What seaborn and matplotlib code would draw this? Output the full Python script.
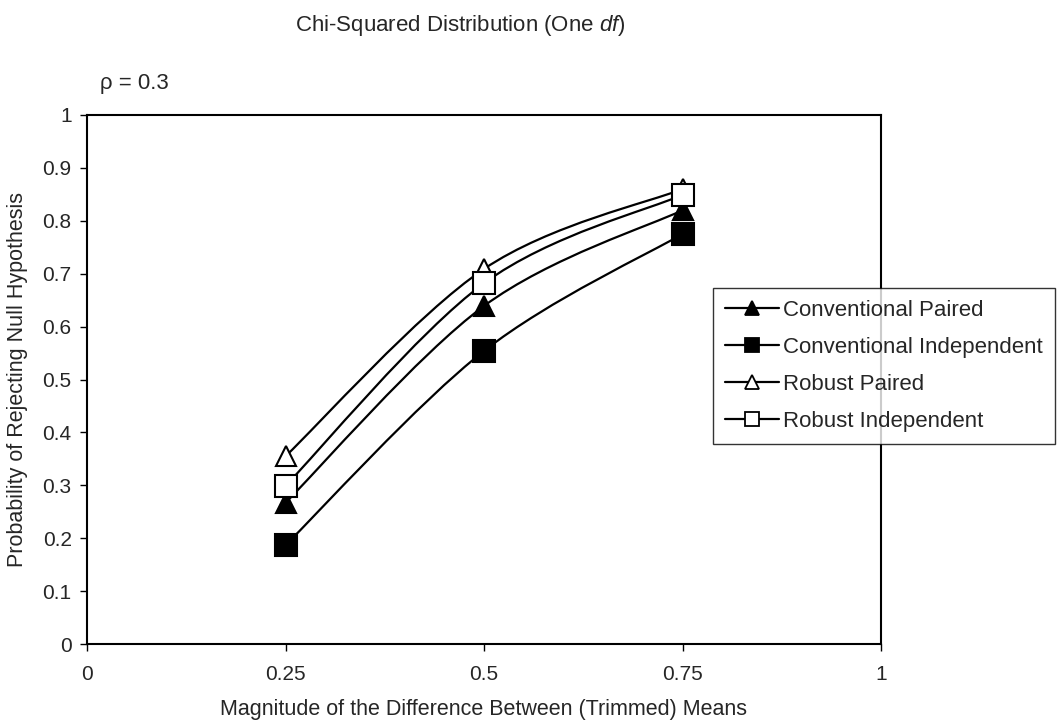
import matplotlib
matplotlib.use("Agg")
import matplotlib.pyplot as plt
from matplotlib.path import Path
from matplotlib.patches import PathPatch
from matplotlib.lines import Line2D
import numpy as np
import pandas as pd
import seaborn as sns

# ---- data ----
magnitudes = [0.25, 0.5, 0.75]
conventional_paired = [0.267, 0.639, 0.820]
conventional_independent = [0.187, 0.554, 0.775]
robust_paired = [0.355, 0.709, 0.860]
robust_independent = [0.299, 0.682, 0.849]
series_names = ["Conventional Paired", "Conventional Independent",
                "Robust Paired", "Robust Independent"]
x_ticks = [0, 0.25, 0.5, 0.75, 1]
x_tick_labels = ["0", "0.25", "0.5", "0.75", "1"]
y_ticks = [0, 0.1, 0.2, 0.3, 0.4, 0.5, 0.6, 0.7, 0.8, 0.9, 1]
y_tick_labels = ["0", "0.1", "0.2", "0.3", "0.4", "0.5", "0.6", "0.7", "0.8", "0.9", "1"]

sns.set_style("white")
plt.rcParams["font.family"] = ["Liberation Sans", "DejaVu Sans"]
plt.rcParams["mathtext.fontset"] = "custom"
plt.rcParams["mathtext.it"] = "Liberation Sans:italic"
plt.rcParams["mathtext.rm"] = "Liberation Sans"

values = [conventional_paired, conventional_independent, robust_paired, robust_independent]
markers = ["^", "s", "^", "s"]
faces = ["black", "black", "white", "white"]
msizes = [14.5, 15.5, 14.5, 15.5]

W, H = 1060, 726
fig = plt.figure(figsize=(W / 100, H / 100), dpi=100)
L, R, T, B = 87, 881, 115, 644
ax = fig.add_axes([L / W, 1 - B / H, (R - L) / W, (B - T) / H])


def smooth_path(xs, ys):
    pts = np.column_stack([xs, ys])
    n = len(pts)
    verts = [pts[0]]
    codes = [Path.MOVETO]
    for i in range(n - 1):
        p0 = pts[i - 1] if i > 0 else pts[i]
        p1 = pts[i]
        p2 = pts[i + 1]
        p3 = pts[i + 2] if i + 2 < n else pts[i + 1]
        c1 = p1 + (p2 - p0) / 6.0
        c2 = p2 - (p3 - p1) / 6.0
        verts += [c1, c2, p2]
        codes += [Path.CURVE4] * 3
    return Path(verts, codes)


handles = []
for k, (name, vals) in enumerate(zip(series_names, values)):
    df = pd.DataFrame({"x": magnitudes, "y": vals})
    patch = PathPatch(smooth_path(df["x"].values, df["y"].values), facecolor="none",
                      edgecolor="black", lw=1.6, zorder=3 + 2 * k)
    ax.add_patch(patch)
    sns.lineplot(data=df, x="x", y="y", ax=ax, marker=markers[k], linestyle="none",
                 markersize=msizes[k], markerfacecolor=faces[k], markeredgecolor="black",
                 markeredgewidth=1.5, color="black", zorder=4 + 2 * k, legend=False)
    handles.append(Line2D([0], [0], color="black", lw=1.6, marker=markers[k],
                          markersize=10, markerfacecolor=faces[k],
                          markeredgecolor="black", markeredgewidth=1.3))

ax.set_xlim(0, 1)
ax.set_ylim(0, 1)
ax.set_xticks(x_ticks)
ax.set_xticklabels(x_tick_labels, fontsize=15)
ax.set_yticks(y_ticks)
ax.set_yticklabels(y_tick_labels, fontsize=15)
ax.tick_params(axis="both", which="both", direction="out", length=5, width=1,
               color="black", bottom=True, left=True, top=False, right=False)
ax.tick_params(axis="x", pad=10)
ax.tick_params(axis="y", pad=6)
ax.set_xlabel("")
ax.set_ylabel("")
for s in ax.spines.values():
    s.set_color("black")
    s.set_linewidth(1.5)

fig.text(18 / W, 1 - (T + B) / 2 / H, "Probability of Rejecting Null Hypothesis",
         rotation=90, ha="center", va="center", fontsize=15.5)
fig.text((L + R) / 2 / W, 1 - 709 / H, "Magnitude of the Difference Between (Trimmed) Means",
         ha="center", va="center", fontsize=15.5)
fig.text(460 / W, 1 - 25 / H, r"Chi-Squared Distribution (One $\it{df}$)",
         ha="center", va="center", fontsize=16)
fig.text(100 / W, 1 - 84 / H, "ρ = 0.3", ha="left", va="center", fontsize=16)

leg = fig.legend(handles, series_names, loc="upper left",
                 bbox_to_anchor=(713 / W, 1 - 288 / H), fontsize=16,
                 frameon=True, fancybox=False, handlelength=2.4, handletextpad=0.2,
                 labelspacing=0.72, borderpad=0.55, borderaxespad=0)
leg.get_frame().set_edgecolor("black")
leg.get_frame().set_linewidth(1.0)

fig.savefig("out.png", dpi=100)
